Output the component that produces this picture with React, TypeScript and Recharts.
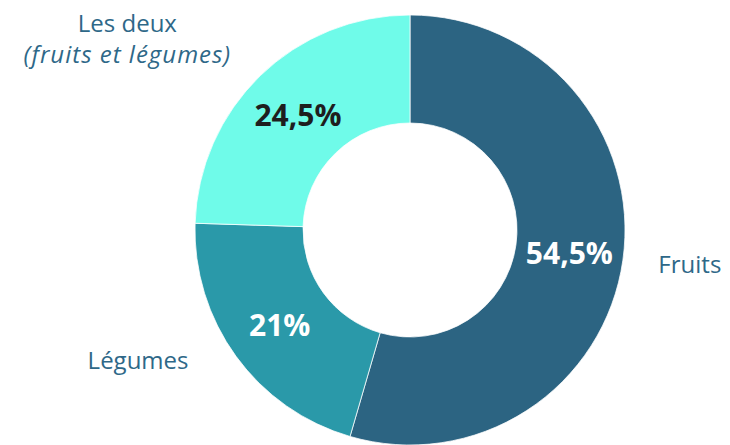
import React from "react";
import { PieChart, Pie, Cell } from "recharts";

const categories = ["Fruits", "Légumes", "Les deux"];
const values = [54.5, 21, 24.5];
const valueLabels = ["54,5%", "21%", "24,5%"];
const subLabels = ["", "", "(fruits et légumes)"];

const colors = ["#2C6482", "#2A99A9", "#6FFBE9"];
const valueTextColors = ["#ffffff", "#ffffff", "#1e1e1e"];
const nameColor = "#2E6888";
const FONT = "'Open Sans', 'Noto Sans', sans-serif";

const data = categories.map((name, i) => ({ name, value: values[i] }));

// offsets of outside names relative to the slice's outer point (in px)
const nameOffsets = [
  { dx: 67, dy: 3 },
  { dx: -98, dy: 3 },
  { dx: -133, dy: -38 },
];

const RAD = Math.PI / 180;

const renderLabel = (props: any) => {
  const { cx, cy, midAngle, innerRadius, outerRadius, index } = props;
  const r = (innerRadius + outerRadius) / 2;
  const x = cx + r * Math.cos(-midAngle * RAD);
  const y = cy + r * Math.sin(-midAngle * RAD);
  const ox = cx + outerRadius * Math.cos(-midAngle * RAD) + nameOffsets[index].dx;
  const oy = cy + outerRadius * Math.sin(-midAngle * RAD) + nameOffsets[index].dy;
  const hasSub = subLabels[index] !== "";
  return (
    <g key={`lab-${index}`}>
      <text
        x={x}
        y={y}
        textAnchor="middle"
        dominantBaseline="central"
        fill={valueTextColors[index]}
        fontFamily={FONT}
        fontWeight={700}
        fontSize={30}
      >
        {valueLabels[index]}
      </text>
      <text
        x={ox}
        y={hasSub ? oy - 15 : oy}
        textAnchor="middle"
        dominantBaseline="central"
        fill={nameColor}
        fontFamily={FONT}
        fontSize={24}
      >
        {categories[index]}
      </text>
      {hasSub && (
        <text
          x={ox}
          y={oy + 16}
          textAnchor="middle"
          dominantBaseline="central"
          fill={nameColor}
          fontFamily={FONT}
          fontStyle="italic"
          fontSize={24}
          letterSpacing={1}
        >
          {subLabels[index]}
        </text>
      )}
    </g>
  );
};

export default function App() {
  return (
    <div style={{ position: "absolute", left: 0, top: 0, width: 730, height: 445, background: "#fff" }}>
      <PieChart width={730} height={445} margin={{ top: 0, right: 0, bottom: 0, left: 0 }}>
        <Pie
          data={data}
          dataKey="value"
          nameKey="name"
          cx={410}
          cy={230}
          innerRadius={107}
          outerRadius={215}
          startAngle={90}
          endAngle={-270}
          stroke="#ffffff"
          strokeWidth={0.75}
          labelLine={false}
          label={renderLabel}
          isAnimationActive={false}
        >
          {data.map((d, i) => (
            <Cell key={d.name} fill={colors[i]} />
          ))}
        </Pie>
      </PieChart>
    </div>
  );
}
